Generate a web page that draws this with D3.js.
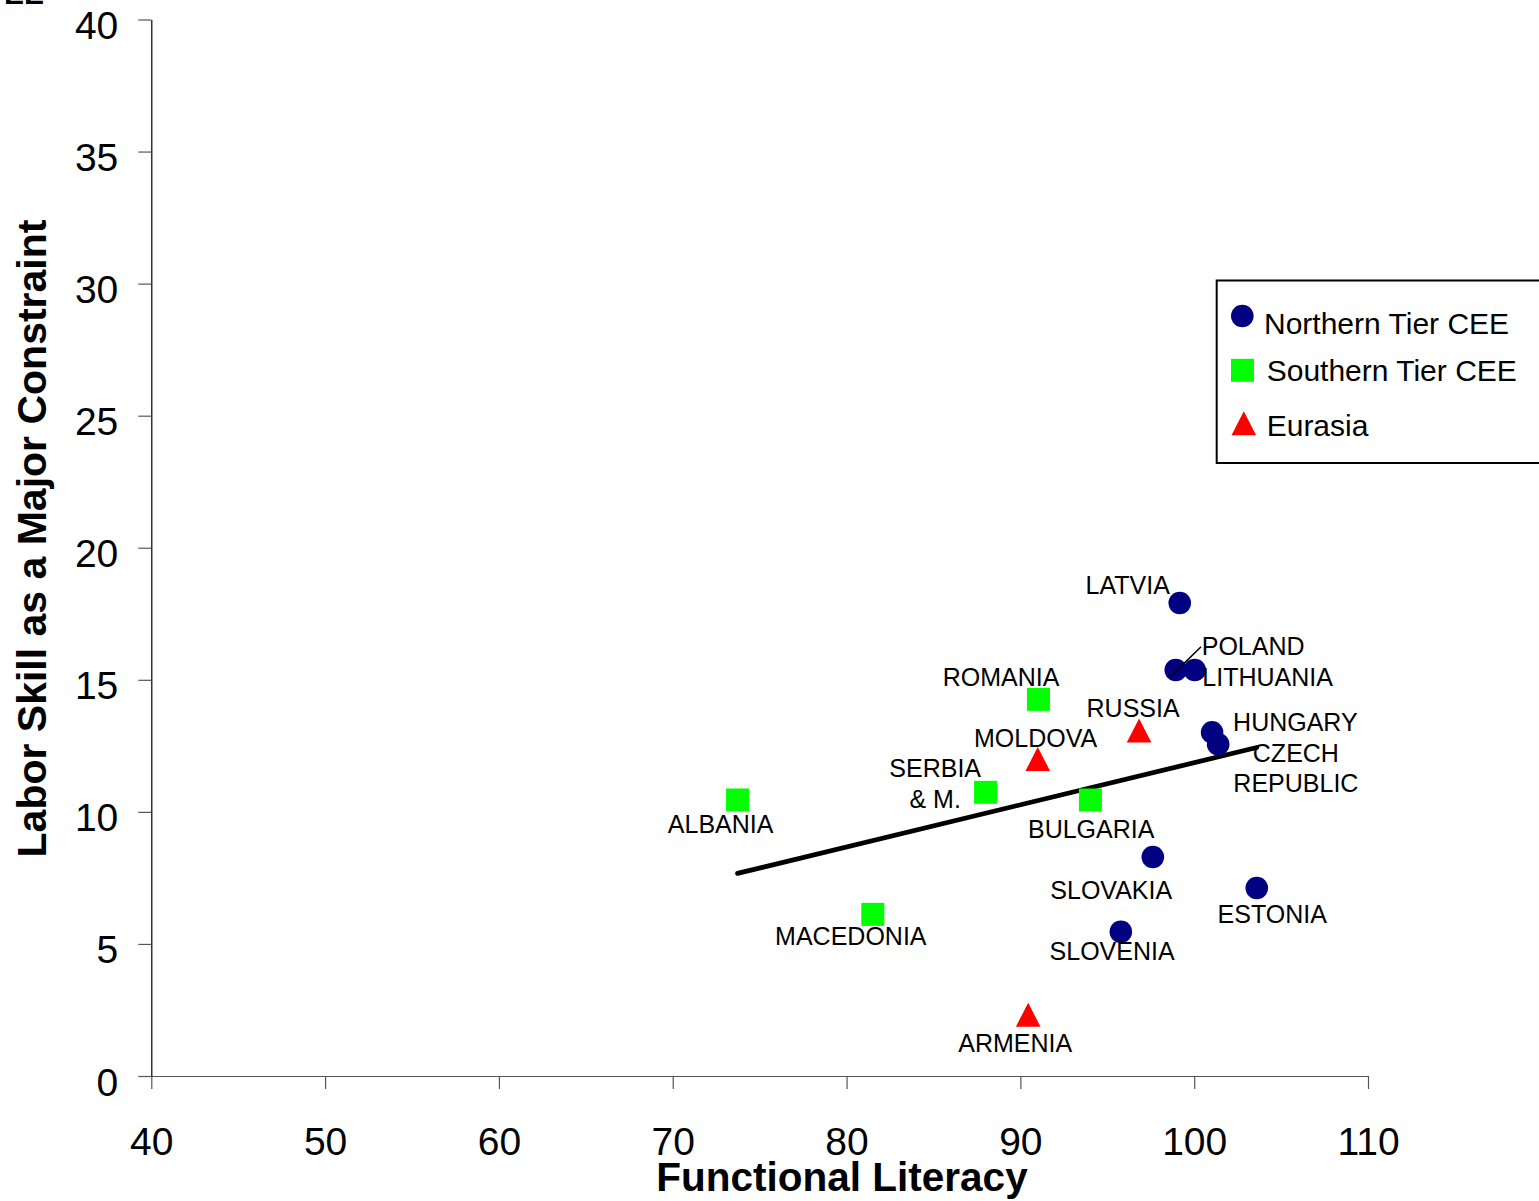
<!DOCTYPE html>
<html>
<head>
<meta charset="utf-8">
<script src="https://cdn.jsdelivr.net/npm/d3@7"></script>
<style>
  html, body { margin: 0; padding: 0; background: #fff; }
  svg { display: block; font-family: "Liberation Sans", Arial, sans-serif; }
</style>
</head>
<body>
<svg id="chart" width="1539" height="1201"></svg>
<script>
// Country groups: functional literacy (x) vs. share citing labor skill as a major constraint (y)
const northernNames    = ["LATVIA", "POLAND", "LITHUANIA", "HUNGARY", "CZECH REPUBLIC", "SLOVAKIA", "SLOVENIA", "ESTONIA"];
const northernLiteracy = [99.17, 98.94, 100.03, 101.03, 101.38, 97.62, 95.78, 103.6];
const northernSkill    = [17.91, 15.37, 15.37, 13.01, 12.56, 8.29, 5.46, 7.12];

const southernNames    = ["ROMANIA", "SERBIA & M.", "BULGARIA", "ALBANIA", "MACEDONIA"];
const southernLiteracy = [91.04, 88.0, 94.03, 73.73, 81.51];
const southernSkill    = [14.26, 10.74, 10.45, 10.45, 6.12];

const eurasiaNames     = ["RUSSIA", "MOLDOVA", "ARMENIA"];
const eurasiaLiteracy  = [96.83, 91.0, 90.45];
const eurasiaSkill     = [13.08, 12.0, 2.32];

const seriesNames = ["Northern Tier CEE", "Southern Tier CEE", "Eurasia"];
const xTicks = [40, 50, 60, 70, 80, 90, 100, 110];
const yTicks = [0, 5, 10, 15, 20, 25, 30, 35, 40];

// Label placement around each marker (pixel offsets from the marker centre)
const labelPlacement = {
  "LATVIA":         { anchor: "middle", dx: -52,  dy: -9 },
  "POLAND":         { anchor: "start",  dx: 26,   dy: -15, leader: [[-6, 7.3], [25.3, -23.3]] },
  "LITHUANIA":      { anchor: "start",  dx: 7.6,  dy: 15.7 },
  "HUNGARY":        { anchor: "start",  dx: 21,   dy: -1.6 },
  "CZECH REPUBLIC": { anchor: "middle", dx: 77.7, dy: 18,  wrap: true, lineGap: 29.4 },
  "SLOVAKIA":       { anchor: "middle", dx: -41.6, dy: 42 },
  "SLOVENIA":       { anchor: "middle", dx: -8.7, dy: 28.3 },
  "ESTONIA":        { anchor: "middle", dx: 15.5, dy: 35 },
  "ROMANIA":        { anchor: "middle", dx: -37.4, dy: -13.6 },
  "SERBIA & M.":    { anchor: "middle", dx: -50.4, dy: -15, wrap: true, lineGap: 31 },
  "BULGARIA":       { anchor: "middle", dx: 0.8,  dy: 38.3 },
  "ALBANIA":        { anchor: "middle", dx: -16.9, dy: 32.7 },
  "MACEDONIA":      { anchor: "middle", dx: -22,  dy: 30.7 },
  "RUSSIA":         { anchor: "middle", dx: -6,   dy: -13.8 },
  "MOLDOVA":        { anchor: "middle", dx: -2.2, dy: -11.9 },
  "ARMENIA":        { anchor: "middle", dx: -13,  dy: 37.6 }
};

const groups = [
  { name: seriesNames[0], shape: "circle",   color: "#000080", names: northernNames, xs: northernLiteracy, ys: northernSkill },
  { name: seriesNames[1], shape: "square",   color: "#00ff00", names: southernNames, xs: southernLiteracy, ys: southernSkill },
  { name: seriesNames[2], shape: "triangle", color: "#ff0000", names: eurasiaNames,  xs: eurasiaLiteracy,  ys: eurasiaSkill }
];

const svg = d3.select("#chart");

const x = d3.scaleLinear().domain([40, 110]).range([151.3, 1368]);
const y = d3.scaleLinear().domain([0, 40]).range([1076, 19.5]);

// Marker paths
function markerPath(shape) {
  if (shape === "square") {
    const h = 11.5;
    return `M${-h},${-h}H${h}V${h}H${-h}Z`;
  }
  if (shape === "triangle") {
    const w = 12.3, h = 12;
    return `M0,${-h}L${w},${h}L${-w},${h}Z`;
  }
  return d3.arc()({ innerRadius: 0, outerRadius: 11.3, startAngle: 0, endAngle: 2 * Math.PI });
}

// Clipped heading fragment at the top-left edge
svg.append("text")
  .attr("x", 4).attr("y", 4)
  .attr("font-size", 30).attr("font-weight", "bold")
  .text("EE");

// Axes
const xAxis = d3.axisBottom(x).tickValues(xTicks).tickSize(13).tickSizeOuter(0);
const yAxis = d3.axisLeft(y).tickValues(yTicks).tickSize(13).tickSizeOuter(0);

const gx = svg.append("g").attr("transform", `translate(0,${y(0)})`).call(xAxis);
gx.select(".domain").attr("stroke", "#555").attr("stroke-width", 1.2);
gx.selectAll(".tick line").attr("stroke", "#555").attr("stroke-width", 1.2);
gx.selectAll(".tick text")
  .attr("font-family", "Liberation Sans, Arial, sans-serif")
  .attr("font-size", 39).attr("fill", "#000")
  .attr("dy", 0).attr("y", 79);

const gy = svg.append("g").attr("transform", `translate(${x(40)},0)`).call(yAxis);
gy.select(".domain").attr("stroke", "#000").attr("stroke-width", 1.2);
gy.selectAll(".tick line").attr("stroke", "#555").attr("stroke-width", 1.2);
gy.selectAll(".tick text")
  .attr("font-family", "Liberation Sans, Arial, sans-serif")
  .attr("font-size", 39).attr("fill", "#000")
  .attr("dy", 0).attr("y", 19).attr("x", -33);

// Axis titles
svg.append("text")
  .attr("x", 842).attr("y", 1191)
  .attr("text-anchor", "middle")
  .attr("font-size", 40.5).attr("font-weight", "bold")
  .text("Functional Literacy");

svg.append("text")
  .attr("transform", "translate(46,538.5) rotate(-90)")
  .attr("text-anchor", "middle")
  .attr("font-size", 41).attr("font-weight", "bold")
  .text("Labor Skill as a Major Constraint");

// Linear trend (least squares over all countries)
const allX = groups.flatMap(g => g.xs);
const allY = groups.flatMap(g => g.ys);
const mx = d3.mean(allX), my = d3.mean(allY);
const slope = d3.sum(allX, (v, i) => (v - mx) * (allY[i] - my)) / d3.sum(allX, v => (v - mx) ** 2);
const intercept = my - slope * mx;
const [x0, x1] = d3.extent(allX);

svg.append("path")
  .attr("d", d3.line()([[x(x0), y(intercept + slope * x0)], [x(x1), y(intercept + slope * x1)]]))
  .attr("stroke", "#000").attr("stroke-width", 4.8).attr("stroke-linecap", "round").attr("fill", "none");

// Markers and country labels
groups.forEach(g => {
  g.names.forEach((name, i) => {
    const px = x(g.xs[i]), py = y(g.ys[i]);
    svg.append("path")
      .attr("d", markerPath(g.shape))
      .attr("transform", `translate(${px},${py})`)
      .attr("fill", g.color);

    const lp = labelPlacement[name];
    if (lp.leader) {
      svg.append("line")
        .attr("x1", px + lp.leader[0][0]).attr("y1", py + lp.leader[0][1])
        .attr("x2", px + lp.leader[1][0]).attr("y2", py + lp.leader[1][1])
        .attr("stroke", "#000").attr("stroke-width", 1.5);
    }
    const lines = lp.wrap
      ? [name.slice(0, name.indexOf(" ")), name.slice(name.indexOf(" ") + 1)]
      : [name];
    const t = svg.append("text")
      .attr("text-anchor", lp.anchor)
      .attr("font-size", 25).attr("fill", "#000");
    lines.forEach((ln, k) => {
      t.append("tspan")
        .attr("x", px + lp.dx)
        .attr("y", py + lp.dy + k * (lp.lineGap || 0))
        .text(ln);
    });
  });
});

// Legend
const legend = svg.append("g");
legend.append("rect")
  .attr("x", 1216.7).attr("y", 280.5).attr("width", 340).attr("height", 182.5)
  .attr("fill", "#fff").attr("stroke", "#000").attr("stroke-width", 2);

const legendRows = [
  { mx: 1242.3, my: 316,   tx: 1264,   ty: 334.3 },
  { mx: 1242.5, my: 370.3, tx: 1266.7, ty: 380.7 },
  { mx: 1243.8, my: 423.3, tx: 1266.7, ty: 435.7 }
];
groups.forEach((g, i) => {
  const r = legendRows[i];
  legend.append("path")
    .attr("d", markerPath(g.shape))
    .attr("transform", `translate(${r.mx},${r.my})`)
    .attr("fill", g.color);
  legend.append("text")
    .attr("x", r.tx).attr("y", r.ty)
    .attr("font-size", 30).attr("fill", "#000")
    .text(g.name);
});
</script>
</body>
</html>
